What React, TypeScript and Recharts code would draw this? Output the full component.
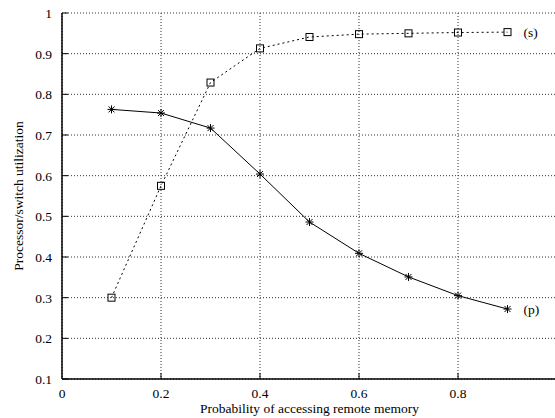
import React from "react";
import {
  LineChart,
  Line,
  XAxis,
  YAxis,
  CartesianGrid,
  Label,
} from "recharts";

const X_VALUES = [0.1, 0.2, 0.3, 0.4, 0.5, 0.6, 0.7, 0.8, 0.9];
const S_VALUES = [0.3, 0.575, 0.829, 0.913, 0.941, 0.948, 0.95, 0.952, 0.953];
const P_VALUES = [0.763, 0.754, 0.717, 0.604, 0.486, 0.409, 0.351, 0.305, 0.272];
const X_TICKS = [0, 0.2, 0.4, 0.6, 0.8];
const X_MIRROR_TICKS = [0.2, 0.4, 0.6, 0.8];
const Y_TICKS = [0.1, 0.2, 0.3, 0.4, 0.5, 0.6, 0.7, 0.8, 0.9, 1];
const Y_MIRROR_TICKS = [0.2, 0.3, 0.4, 0.5, 0.6, 0.7, 0.8, 0.9];
const SERIES_NAMES = ["(s)", "(p)"];
const X_TITLE = "Probability of accessing remote memory";
const Y_TITLE = "Processor/switch utilization";

const data = X_VALUES.map((x, i) => ({ x, s: S_VALUES[i], p: P_VALUES[i] }));

const FONT = "'Liberation Serif', 'DejaVu Serif', serif";
const FS = 13.5;
const LAST = X_VALUES.length - 1;

const BottomTick = (props: any) => {
  const { x, y, payload } = props;
  return (
    <g>
      {payload.value !== 0 && (
        <line x1={x} y1={y} x2={x} y2={y - 6} stroke="#000" strokeWidth={1} />
      )}
      <text x={x} y={y + 19} textAnchor="middle" fontFamily={FONT} fontSize={FS} fill="#000">
        {String(payload.value)}
      </text>
    </g>
  );
};

const LeftTick = (props: any) => {
  const { x, y, payload } = props;
  return (
    <g>
      <line x1={x} y1={y} x2={x + 6} y2={y} stroke="#000" strokeWidth={1} />
      <text x={x - 10} y={y + 5} textAnchor="end" fontFamily={FONT} fontSize={FS} fill="#000">
        {String(payload.value)}
      </text>
    </g>
  );
};

const TopTick = (props: any) => {
  const { x, y } = props;
  return <line x1={x} y1={y} x2={x} y2={y + 6} stroke="#000" strokeWidth={1} />;
};

const RightTick = (props: any) => {
  const { x, y } = props;
  return <line x1={x} y1={y} x2={x - 6} y2={y} stroke="#000" strokeWidth={1} />;
};

const makeSquareDot = (label: string) => (props: any) => {
  const { cx, cy, index } = props;
  return (
    <g key={`sq-${index}`}>
      <rect x={cx - 3.5} y={cy - 3.5} width={7} height={7} fill="none" stroke="#000" strokeWidth={1} />
      {index === LAST && (
        <text x={cx + 16} y={cy + 4.5} fontFamily={FONT} fontSize={FS} fill="#000">
          {label}
        </text>
      )}
    </g>
  );
};

const makeStarDot = (label: string) => (props: any) => {
  const { cx, cy, index } = props;
  const r = 4;
  const d = 3;
  return (
    <g key={`st-${index}`}>
      <line x1={cx - r} y1={cy} x2={cx + r} y2={cy} stroke="#000" strokeWidth={1} />
      <line x1={cx} y1={cy - r} x2={cx} y2={cy + r} stroke="#000" strokeWidth={1} />
      <line x1={cx - d} y1={cy - d} x2={cx + d} y2={cy + d} stroke="#000" strokeWidth={1} />
      <line x1={cx - d} y1={cy + d} x2={cx + d} y2={cy - d} stroke="#000" strokeWidth={1} />
      {index === LAST && (
        <text x={cx + 16} y={cy + 4.5} fontFamily={FONT} fontSize={FS} fill="#000">
          {label}
        </text>
      )}
    </g>
  );
};

export default function App() {
  return (
    <div
      style={{
        position: "absolute",
        left: 0,
        top: 0,
        width: 555,
        height: 418,
        overflow: "hidden",
        background: "#fff",
      }}
    >
      <LineChart
        width={560}
        height={418}
        data={data}
        margin={{ top: 13, right: 3, bottom: 9, left: 2 }}
      >
        <CartesianGrid stroke="#333" strokeDasharray="1 2" strokeWidth={1} />
        <XAxis
          dataKey="x"
          type="number"
          domain={[0, 1]}
          ticks={X_TICKS}
          height={30}
          tickSize={0}
          tickMargin={0}
          tickLine={false}
          axisLine={{ stroke: "#000", strokeWidth: 1.5 }}
          tick={<BottomTick />}
          interval={0}
        >
          <Label
            content={(p: any) => {
              const vb = p.viewBox;
              return (
                <text
                  x={vb.x + vb.width / 2}
                  y={vb.y + 34}
                  textAnchor="middle"
                  fontFamily={FONT}
                  fontSize={FS}
                  fill="#000"
                >
                  {X_TITLE}
                </text>
              );
            }}
          />
        </XAxis>
        <XAxis
          xAxisId="top"
          orientation="top"
          dataKey="x"
          type="number"
          domain={[0, 1]}
          ticks={X_MIRROR_TICKS}
          height={0}
          tickSize={0}
          tickMargin={0}
          tickLine={false}
          axisLine={{ stroke: "#000", strokeWidth: 1.5 }}
          tick={<TopTick />}
          interval={0}
        />
        <YAxis
          type="number"
          domain={[0.1, 1]}
          ticks={Y_TICKS}
          width={60}
          tickSize={0}
          tickMargin={0}
          tickLine={false}
          axisLine={{ stroke: "#000", strokeWidth: 1.5 }}
          tick={<LeftTick />}
          interval={0}
        >
          <Label
            content={(p: any) => {
              const vb = p.viewBox;
              const cx = vb.x + 21;
              const cy = vb.y + vb.height / 2;
              return (
                <text
                  x={cx}
                  y={cy}
                  textAnchor="middle"
                  transform={`rotate(-90 ${cx} ${cy})`}
                  fontFamily={FONT}
                  fontSize={FS}
                  fill="#000"
                >
                  {Y_TITLE}
                </text>
              );
            }}
          />
        </YAxis>
        <YAxis
          yAxisId="right"
          orientation="right"
          type="number"
          domain={[0.1, 1]}
          ticks={Y_MIRROR_TICKS}
          width={0}
          tickSize={0}
          tickMargin={0}
          tickLine={false}
          axisLine={{ stroke: "#000", strokeWidth: 1.5 }}
          tick={<RightTick />}
          interval={0}
        />
        <Line
          dataKey="s"
          stroke="#000"
          strokeWidth={1}
          strokeDasharray="2 3"
          dot={makeSquareDot(SERIES_NAMES[0])}
          activeDot={false}
          isAnimationActive={false}
        />
        <Line
          dataKey="p"
          stroke="#000"
          strokeWidth={1}
          dot={makeStarDot(SERIES_NAMES[1])}
          activeDot={false}
          isAnimationActive={false}
        />
      </LineChart>
    </div>
  );
}
